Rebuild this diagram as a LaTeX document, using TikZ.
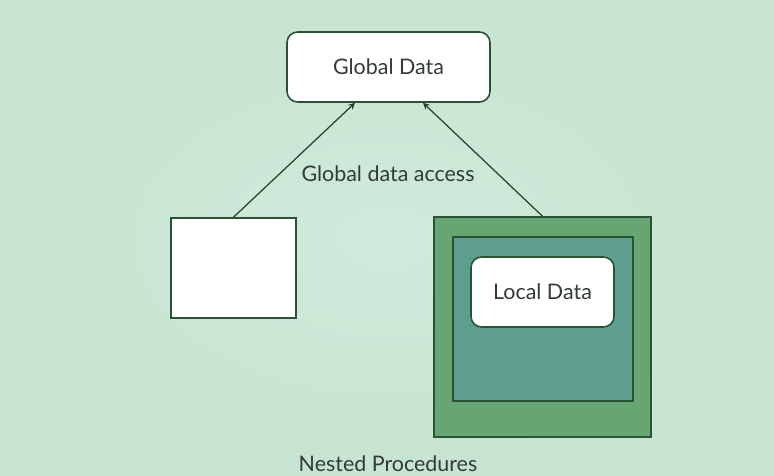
\documentclass[tikz,border=0pt]{standalone}
\usepackage{fontspec}
\setmainfont{Lato}
\usepackage{tikz}
\usetikzlibrary{arrows,backgrounds,calc}
\definecolor{bgmid}{HTML}{D0EADB}
\definecolor{bgedge}{HTML}{C6E4D1}
\definecolor{edgegreen}{HTML}{2C5236}
\definecolor{outergreen}{HTML}{66A673}
\definecolor{innerteal}{HTML}{5E9E8E}
\definecolor{textgray}{HTML}{333B36}
\tikzset{
  databox/.style={draw=edgegreen,line width=0.9pt,fill=white,rounded corners=6pt,
    text=textgray,font=\fontsize{12.2}{14}\selectfont},
  procbox/.style={draw=edgegreen,line width=0.9pt,inner sep=0pt},
  access/.style={draw=edgegreen!80!black,line width=0.7pt,-stealth},
  caption/.style={text=textgray,font=\fontsize{12.2}{14}\selectfont}
}
\begin{document}
\begin{tikzpicture}[x=0.02cm,y=-0.02cm]
\useasboundingbox (0,0) rectangle (774,476);
\shade[inner color=bgmid,outer color=bgedge] (0,0) rectangle (774,476);
% global data
\node[databox,minimum width=4.06cm,minimum height=1.4cm] (global) at (388.5,67) {Global Data};
% plain procedure
\node[procbox,fill=white,minimum width=2.5cm,minimum height=2cm] (proc) at (233.5,268) {};
% nested procedures
\node[procbox,fill=outergreen,minimum width=4.34cm,minimum height=4.4cm] (outer) at (542.5,327) {};
\node[procbox,fill=innerteal,minimum width=3.6cm,minimum height=3.28cm] (inner) at (543,319) {};
\node[databox,minimum width=2.86cm,minimum height=1.4cm] (local) at (542.5,292) {Local Data};
% access arrows
\draw[access] (proc.north) -- ($(global.south)+(-33.5,0)$);
\draw[access] (outer.north) -- ($(global.south)+(34.5,0)$);
\node[caption] (acc) at (388,174) {Global data access};
\node[caption] (nested) at (388,464) {Nested Procedures};
\end{tikzpicture}
\end{document}
